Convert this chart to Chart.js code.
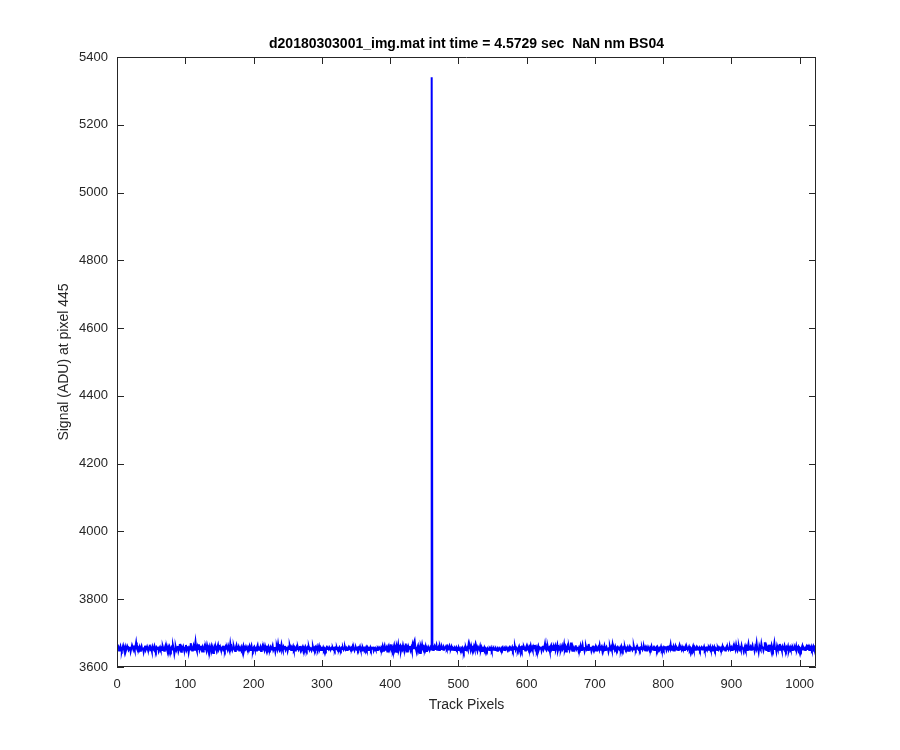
<!DOCTYPE html>
<html>
<head>
<meta charset="utf-8">
<script src="https://cdn.jsdelivr.net/npm/chart.js@4"></script>
<style>
  body { margin: 0; background: #fff; }
  #wrap { width: 900px; height: 750px; }
</style>
</head>
<body>
<div id="wrap"><canvas id="myChart"></canvas></div>
<script>
// chart data
const titleText = 'd20180303001_img.mat int time = 4.5729 sec  NaN nm BS04';
const xLabel = 'Track Pixels';
const yLabel = 'Signal (ADU) at pixel 445';
const xTicks = [0, 100, 200, 300, 400, 500, 600, 700, 800, 900, 1000];
const yTicks = [3600, 3800, 4000, 4200, 4400, 4600, 4800, 5000, 5200, 5400];
const xRange = [0, 1024];
const yRange = [3600, 5400];

// signal per track pixel, pixels 1..1024
const signal = [
  3652,3658,3649,3655,3661,3650,3647,3656,3663,3654,3651,3659,3648,3655,3662,3657,3650,3653,3660,3646,3655,3664,3658,3651,3656,3649,3660,3672,3655,3650,3657,3653,
  3659,3648,3654,3661,3652,3657,3645,3656,3663,3650,3655,3660,3653,3649,3658,3666,3652,3655,3647,3660,3654,3651,3662,3656,3649,3657,3653,3660,3648,3655,3659,3652,
  3656,3650,3661,3654,3648,3657,3663,3652,3655,3646,3658,3651,3660,3654,3649,3657,3652,3664,3655,3640,3653,3659,3650,3656,3662,3647,3655,3668,3651,3645,3658,3654,
  3660,3652,3648,3657,3665,3650,3655,3661,3644,3656,3652,3670,3658,3649,3654,3662,3651,3657,3674,3655,3648,3660,3653,3667,3650,3656,3663,3652,3658,3646,3655,3661,
  3653,3657,3649,3664,3655,3651,3659,3646,3655,3662,3650,3657,3641,3654,3660,3652,3656,3648,3658,3665,3651,3655,3660,3653,3649,3657,3663,3652,3656,3650,3659,3654,
  3657,3651,3662,3655,3648,3668,3654,3659,3650,3656,3661,3653,3647,3657,3664,3652,3655,3660,3649,3656,3653,3659,3651,3655,3662,3648,3657,3653,3660,3655,3650,3658,
  3654,3661,3650,3656,3663,3652,3648,3657,3660,3653,3655,3649,3658,3664,3651,3656,3653,3659,3647,3655,3661,3652,3657,3650,3662,3655,3648,3657,3653,3660,3654,3651,
  3658,3652,3656,3663,3650,3655,3659,3646,3657,3661,3653,3668,3655,3650,3658,3652,3666,3655,3649,3659,3654,3662,3651,3656,3660,3648,3657,3653,3663,3655,3650,3658,
  3655,3661,3652,3657,3649,3656,3660,3653,3658,3651,3655,3662,3650,3657,3654,3659,3648,3656,3652,3660,3655,3650,3657,3653,3659,3651,3656,3654,3649,3657,3660,3652,
  3656,3651,3658,3654,3660,3649,3655,3662,3652,3657,3650,3655,3653,3658,3651,3656,3654,3650,3657,3653,3655,3652,3658,3654,3651,3656,3653,3657,3652,3655,3650,3656,
  3653,3657,3651,3655,3652,3658,3654,3650,3656,3653,3657,3651,3655,3659,3652,3656,3650,3654,3658,3653,3655,3651,3657,3654,3660,3652,3656,3649,3655,3658,3653,3656,
  3651,3657,3654,3660,3652,3655,3649,3658,3653,3656,3651,3655,3659,3652,3657,3650,3655,3653,3658,3651,3656,3654,3660,3649,3655,3657,3652,3654,3650,3656,3653,3658,
  3655,3650,3657,3653,3661,3648,3656,3663,3651,3655,3659,3646,3657,3662,3650,3655,3667,3652,3658,3649,3656,3664,3651,3657,3645,3660,3653,3666,3650,3656,3661,3648,
  3657,3652,3664,3655,3647,3658,3669,3651,3656,3643,3660,3654,3662,3650,3657,3648,3665,3655,3672,3678,3660,3652,3645,3657,3663,3650,3656,3641,3660,3653,3666,3655,
  3650,3658,3653,3661,3647,3656,3652,3659,3654,3650,3657,3652,5340,3655,3650,3658,3662,3653,3656,3664,3651,3655,3659,3650,3662,3656,3653,3660,3655,3651,3658,3654,
  3657,3661,3655,3660,3652,3658,3663,3656,3654,3660,3651,3657,3655,3650,3656,3653,3658,3652,3655,3650,3657,3653,3648,3655,3651,3657,3653,3646,3655,3650,3658,3652,
  3656,3651,3666,3655,3659,3650,3662,3654,3657,3649,3660,3653,3664,3651,3656,3648,3659,3655,3652,3661,3650,3657,3647,3655,3653,3658,3651,3656,3654,3649,3655,3652,
  3650,3655,3652,3657,3649,3654,3651,3656,3653,3650,3655,3652,3648,3654,3651,3656,3653,3649,3655,3651,3657,3653,3650,3655,3652,3658,3654,3650,3656,3653,3657,3651,
  3655,3652,3658,3650,3656,3653,3660,3651,3657,3654,3649,3656,3661,3652,3655,3658,3650,3657,3653,3660,3655,3649,3657,3662,3652,3656,3650,3659,3654,3663,3652,3657,
  3650,3660,3655,3665,3653,3658,3649,3656,3662,3651,3657,3654,3660,3648,3656,3663,3652,3658,3669,3654,3650,3657,3661,3652,3656,3647,3659,3664,3653,3657,3650,3660,
  3655,3662,3651,3657,3665,3649,3656,3653,3660,3650,3657,3663,3652,3655,3667,3651,3658,3646,3656,3662,3653,3659,3650,3657,3672,3654,3648,3660,3655,3651,3658,3664,
  3652,3656,3660,3649,3657,3653,3662,3650,3655,3665,3652,3658,3647,3656,3661,3653,3657,3650,3668,3655,3652,3659,3648,3656,3663,3651,3657,3654,3660,3649,3656,3652,
  3658,3653,3664,3651,3656,3660,3648,3657,3654,3662,3650,3655,3659,3652,3657,3646,3656,3661,3653,3658,3650,3666,3654,3657,3651,3660,3653,3656,3649,3658,3655,3652,
  3657,3652,3661,3655,3650,3657,3654,3659,3651,3656,3653,3658,3648,3655,3660,3652,3657,3654,3650,3656,3662,3653,3655,3651,3658,3654,3657,3652,3655,3650,3656,3653,
  3658,3651,3655,3660,3653,3657,3649,3656,3652,3659,3654,3650,3657,3653,3661,3652,3655,3658,3650,3656,3653,3657,3651,3659,3655,3652,3656,3653,3660,3651,3655,3658,
  3652,3657,3654,3661,3650,3656,3663,3652,3658,3654,3666,3651,3657,3653,3660,3649,3656,3662,3652,3658,3655,3650,3657,3664,3653,3656,3651,3659,3654,3657,3650,3656,
  3661,3653,3657,3651,3655,3660,3652,3657,3654,3649,3656,3662,3653,3658,3651,3655,3659,3652,3656,3653,3657,3650,3655,3658,3652,3656,3654,3660,3651,3655,3657,3653,
  3656,3651,3658,3654,3660,3652,3655,3649,3657,3653,3659,3651,3656,3654,3650,3657,3652,3658,3655,3650,3656,3653,3661,3652,3657,3654,3649,3656,3660,3653,3657,3651,
  3655,3659,3652,3657,3650,3656,3662,3653,3658,3651,3665,3655,3649,3657,3661,3652,3656,3650,3663,3654,3658,3647,3656,3662,3653,3659,3650,3657,3668,3652,3656,3660,
  3651,3657,3664,3653,3658,3648,3660,3655,3670,3652,3657,3645,3662,3655,3651,3668,3656,3660,3649,3657,3673,3654,3650,3661,3656,3647,3666,3655,3659,3651,3664,3656,
  3650,3658,3671,3653,3657,3646,3662,3655,3659,3651,3668,3654,3657,3649,3660,3655,3652,3663,3656,3650,3658,3654,3661,3648,3656,3660,3653,3657,3650,3659,3655,3652,
  3658,3653,3662,3650,3656,3660,3652,3657,3654,3649,3657,3663,3652,3658,3655,3650,3657,3661,3653,3666,3655,3650,3658,3654,3660,3652,3657,3662,3655,3659,3656,3660
];

const axisColor = '#262626';
const fontFamily = '"Liberation Sans", Arial, Helvetica, sans-serif';

// matlab style box with inward ticks, plus title and axis labels
const matlabAxes = {
  id: 'matlabAxes',
  afterDraw(chart) {
    const ctx = chart.ctx;
    const a = chart.chartArea;
    const xs = chart.scales.x;
    const ys = chart.scales.y;
    const tl = 7;
    ctx.save();
    ctx.strokeStyle = axisColor;
    ctx.lineWidth = 1;
    ctx.beginPath();
    ctx.rect(a.left + 0.5, a.top + 0.5, a.right - a.left - 1, a.bottom - a.top - 1);
    xTicks.forEach(function(v) {
      const px = Math.round(xs.getPixelForValue(v)) + 0.5;
      ctx.moveTo(px, a.bottom); ctx.lineTo(px, a.bottom - tl);
      ctx.moveTo(px, a.top); ctx.lineTo(px, a.top + tl);
    });
    yTicks.forEach(function(v) {
      const py = Math.round(ys.getPixelForValue(v)) + 0.5;
      ctx.moveTo(a.left, py); ctx.lineTo(a.left + tl, py);
      ctx.moveTo(a.right, py); ctx.lineTo(a.right - tl, py);
    });
    ctx.stroke();

    const cx = (a.left + a.right) / 2;
    ctx.fillStyle = '#000';
    ctx.textAlign = 'center';
    ctx.textBaseline = 'middle';
    ctx.font = 'bold 14px ' + fontFamily;
    ctx.fillText(titleText, cx, a.top - 13);

    ctx.fillStyle = axisColor;
    ctx.font = '14px ' + fontFamily;
    ctx.fillText(xLabel, cx, a.bottom + 38);

    ctx.translate(a.left - 53, (a.top + a.bottom) / 2);
    ctx.rotate(-Math.PI / 2);
    ctx.fillText(yLabel, 0, 0);
    ctx.restore();
  }
};

const ctx = document.getElementById('myChart').getContext('2d');

// eslint-disable-next-line no-unused-vars
const chart = new Chart(ctx, {
  type: 'line',
  data: {
    datasets: [{
      data: signal.map(function(v, i) { return { x: i + 1, y: v }; }),
      borderColor: '#0000ff',
      borderWidth: 2,
      pointRadius: 0,
      tension: 0,
    }]
  },
  options: {
    responsive: true,
    maintainAspectRatio: false,
    animation: false,
    events: [],
    layout: { padding: { top: 57, right: 84, bottom: 0, left: 0 } },
    plugins: {
      legend: { display: false },
      tooltip: { enabled: false },
    },
    scales: {
      x: {
        type: 'linear',
        min: xRange[0],
        max: xRange[1],
        grid: { display: false, drawTicks: false },
        border: { display: false },
        afterFit: function(scale) { scale.height = 83; },
        afterBuildTicks: function(scale) {
          scale.ticks = xTicks.map(function(v) { return { value: v }; });
        },
        ticks: {
          autoSkip: false,
          maxRotation: 0,
          padding: 10,
          color: axisColor,
          font: { family: fontFamily, size: 13 },
          callback: function(v) { return String(v); },
        },
      },
      y: {
        min: yRange[0],
        max: yRange[1],
        grid: { display: false, drawTicks: false },
        border: { display: false },
        afterFit: function(scale) { scale.width = 117; },
        afterBuildTicks: function(scale) {
          scale.ticks = yTicks.map(function(v) { return { value: v }; });
        },
        ticks: {
          autoSkip: false,
          padding: 9,
          color: axisColor,
          font: { family: fontFamily, size: 13 },
          callback: function(v) { return String(v); },
        },
      },
    },
  },
  plugins: [matlabAxes],
});
</script>
</body>
</html>
